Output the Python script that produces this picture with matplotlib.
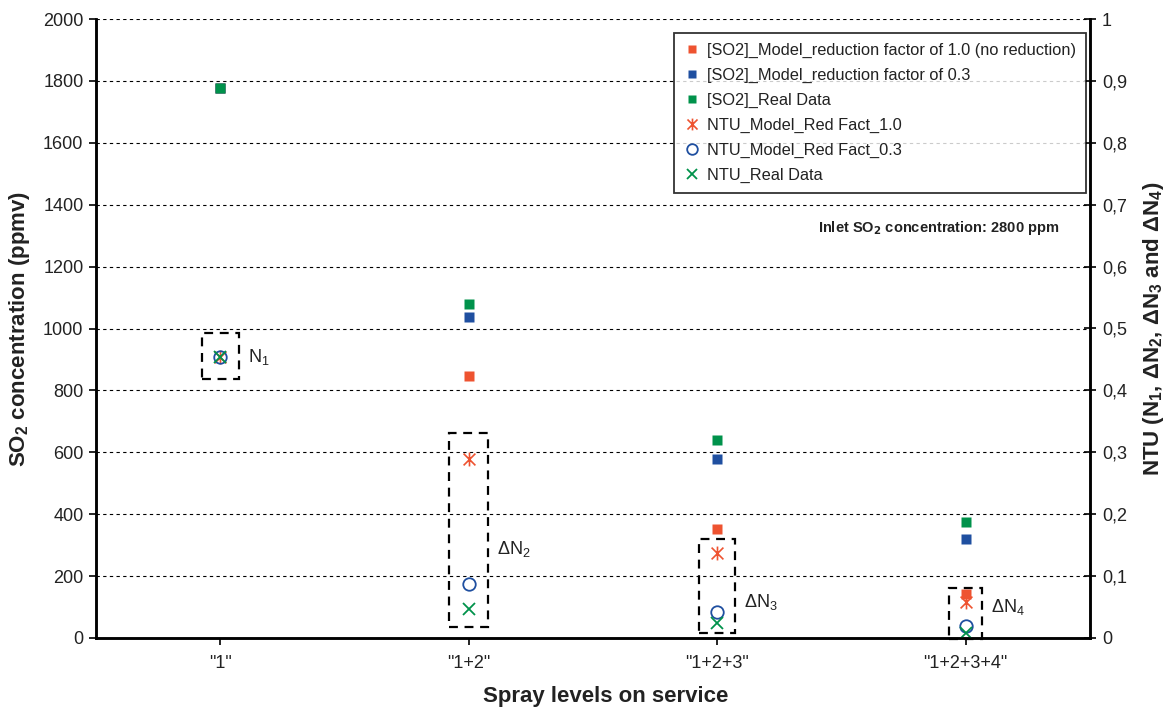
import numpy as np
import matplotlib
matplotlib.use("Agg")
import matplotlib.pyplot as plt
from matplotlib.patches import Rectangle
from matplotlib.path import Path
from matplotlib.ticker import FuncFormatter, MultipleLocator

plt.rcParams['font.family'] = ['Liberation Sans', 'DejaVu Sans']
plt.rcParams['mathtext.default'] = 'regular'

categories = ['"1"', '"1+2"', '"1+2+3"', '"1+2+3+4"']
so2_model_10 = [1778, 846, 352, 142]
so2_model_03 = [1778, 1037, 578, 320]
so2_real = [1778, 1079, 640, 375]
ntu_model_10 = [0.454, 0.289, 0.137, 0.058]
ntu_model_03 = [0.454, 0.087, 0.042, 0.019]
ntu_real = [0.454, 0.047, 0.024, 0.008]
box_labels = ['N$_1$', r'$\Delta$N$_2$', r'$\Delta$N$_3$', r'$\Delta$N$_4$']

RED = '#EE5330'
BLUE = '#1F4FA0'
GREEN = '#00924B'
TXT = '#222222'

# Excel-like star marker: vertical bar plus an X
star = Path([(0, -1), (0, 1), (-0.85, -0.85), (0.85, 0.85), (-0.85, 0.85), (0.85, -0.85)],
            [Path.MOVETO, Path.LINETO, Path.MOVETO, Path.LINETO, Path.MOVETO, Path.LINETO])

fig = plt.figure(figsize=(11.72, 7.10), dpi=100)
ax = fig.add_axes([96/1172, 1-638/710, 994/1172, 619/710])
ax2 = ax.twinx()

x = np.arange(len(categories))
ms = 6.5
h1, = ax.plot(x, so2_model_10, 's', color=RED, ms=ms, mec='none', label='[SO2]_Model_reduction factor of 1.0 (no reduction)')
h2, = ax.plot(x, so2_model_03, 's', color=BLUE, ms=ms, mec='none', label='[SO2]_Model_reduction factor of 0.3')
h3, = ax.plot(x, so2_real, 's', color=GREEN, ms=ms, mec='none', label='[SO2]_Real Data')

h4, = ax2.plot(x, ntu_model_10, marker=star, ls='none', color=RED, ms=10, mew=1.2, label='NTU_Model_Red Fact_1.0')
h5, = ax2.plot(x, ntu_model_03, 'o', color=BLUE, mfc='none', ms=9, mew=1.3, label='NTU_Model_Red Fact_0.3')
h6, = ax2.plot(x, ntu_real, 'x', color=GREEN, ms=9, mew=1.3, label='NTU_Real Data')

ax.set_xlim(-0.5, 3.5)
ax.set_ylim(0, 2000)
ax2.set_ylim(0, 1)
ax.yaxis.set_major_locator(MultipleLocator(200))
ax2.yaxis.set_major_locator(MultipleLocator(0.1))
ax2.yaxis.set_major_formatter(FuncFormatter(lambda v, p: ('%g' % round(v, 1)).replace('.', ',')))
ax.set_xticks(x)
ax.set_xticklabels(categories)

ax.grid(axis='y', color='black', ls=(0, (3, 3)), lw=0.8)
ax.set_axisbelow(True)

for a in (ax, ax2):
    a.spines['top'].set_visible(False)
    for s in ('left', 'right', 'bottom'):
        a.spines[s].set_linewidth(1.8)
        a.spines[s].set_color('black')

ax.tick_params(axis='y', direction='out', length=5, width=1.2, labelsize=13, labelcolor=TXT, pad=4)
ax.tick_params(axis='x', direction='out', length=5, width=1.2, labelsize=13, labelcolor=TXT, pad=7)
ax2.tick_params(axis='y', direction='inout', length=9, width=1.2, labelsize=13, labelcolor=TXT, pad=4)

ax.set_ylabel('SO$_2$ concentration (ppmv)', fontsize=16, fontweight='bold', labelpad=8, color=TXT)
ax2.set_ylabel(r'NTU (N$_1$, $\Delta$N$_2$, $\Delta$N$_3$ and $\Delta$N$_4$)', fontsize=16,
               fontweight='bold', labelpad=10, color=TXT)
ax.set_xlabel('Spray levels on service', fontsize=16, fontweight='bold', color=TXT)
ax.xaxis.set_label_coords(0.513, -0.078)

# dashed boxes around NTU points of each stage
pad_top = [0.038, 0.042, 0.023, 0.023]
pad_bot = [0.036, 0.029, 0.016, 0.010]
half_w = [0.075, 0.078, 0.072, 0.066]
label_frac = [None, 0.6, 0.67, 0.38]
for i in range(len(categories)):
    vals = [ntu_model_10[i], ntu_model_03[i], ntu_real[i]]
    top = max(vals) + pad_top[i]
    bot = max(min(vals) - pad_bot[i], -0.002)
    rect = Rectangle((x[i] - half_w[i], bot), 2 * half_w[i], top - bot, fill=False,
                     ec='black', lw=1.6, ls=(0, (4, 3)), clip_on=False, zorder=5)
    ax2.add_patch(rect)
    ylab = max(vals) if label_frac[i] is None else top - label_frac[i] * (top - bot)
    ax2.text(x[i] + half_w[i] + 0.035, ylab, box_labels[i], fontsize=13, color=TXT,
             va='center', ha='left')

ax2.text(0.726, 0.662, 'Inlet SO$_\\mathbf{2}$ concentration: 2800 ppm', transform=ax2.transAxes,
         fontsize=10.5, fontweight='bold', color=TXT, ha='left', va='center')

leg = ax2.legend(handles=[h1, h2, h3, h4, h5, h6], loc='upper right', bbox_to_anchor=(0.996, 0.977),
                 fontsize=11.8, frameon=True, fancybox=False, handlelength=1.0, handletextpad=0.4,
                 labelspacing=0.6, borderpad=0.6, borderaxespad=0, markerscale=0.85)
leg.get_frame().set_edgecolor('black')
leg.get_frame().set_linewidth(1.3)
for t in leg.get_texts():
    t.set_color(TXT)

fig.savefig('out.png', dpi=100)
